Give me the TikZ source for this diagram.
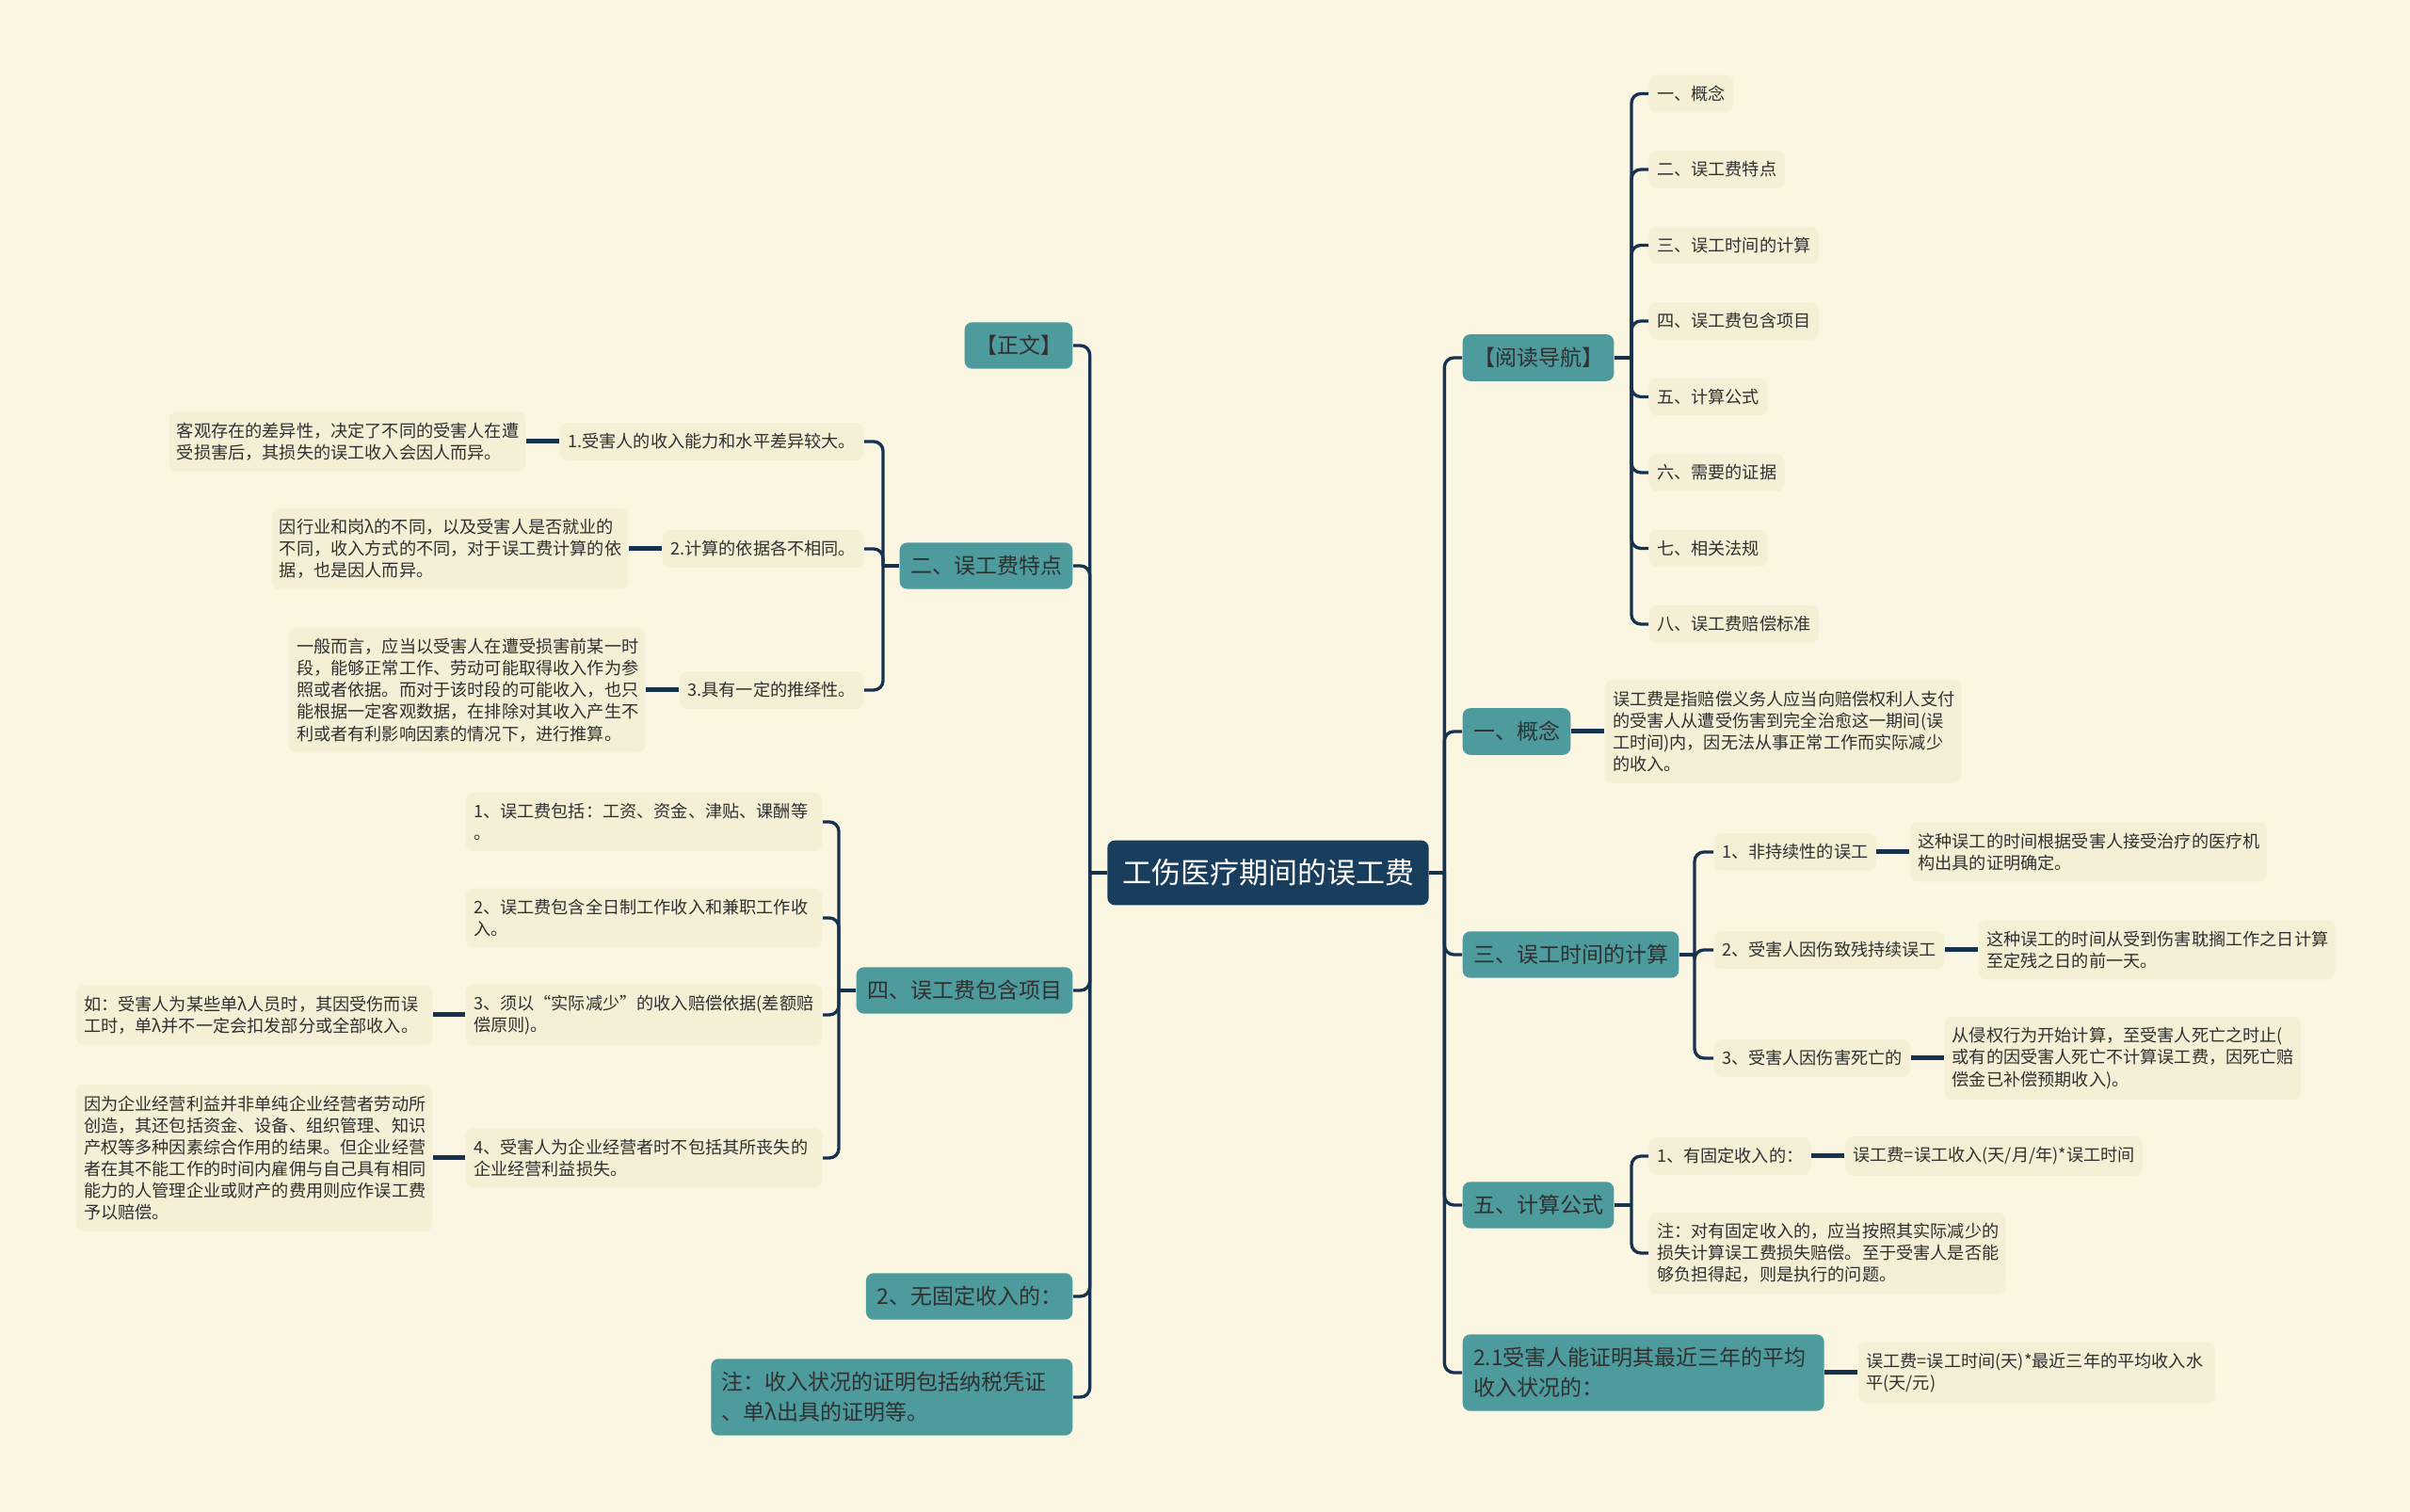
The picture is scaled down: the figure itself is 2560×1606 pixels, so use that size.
\documentclass[tikz,border=0pt]{standalone}
\usepackage{fontspec}
\setmainfont{Noto Sans CJK SC}
\usepackage{tikz}
\usetikzlibrary{positioning}
\setlength{\parindent}{0pt}
\definecolor{hgrund}{RGB}{250,246,226}
\definecolor{kasten}{RGB}{245,240,213}
\definecolor{tuerkis}{RGB}{78,155,157}
\definecolor{dunkelblau}{RGB}{24,61,93}
\definecolor{linie}{RGB}{22,50,79}
\definecolor{schrift}{RGB}{48,48,48}

\begin{document}
\begin{tikzpicture}[x=0.3pt, y=-0.3pt,
		wurzel/.style={fill=dunkelblau, text=white, rounded corners=2.4pt, inner xsep=4.7pt, inner ysep=6pt, font=\fontsize{9.3}{11}\selectfont},
		ast/.style={fill=tuerkis, text=schrift, rounded corners=2.4pt, inner xsep=3.4pt, inner ysep=4.2pt, align=left, font=\fontsize{6.9}{9.6}\selectfont},
		langast/.style={ast, text width=108.4pt},
		blatt/.style={fill=kasten, text=schrift, rounded corners=2.4pt, inner xsep=2.5pt, inner ysep=3.4pt, align=left, font=\fontsize{5.45}{6.95}\selectfont},
		langblatt/.style={blatt, text width=108.6pt},
		zweig/.style={draw=linie, line width=1pt, rounded corners=3pt},
		stiel/.style={draw=linie, line width=1.5pt}]
	% Hintergrund
	\fill[hgrund] (0,0) rectangle (2560,1606);
	\useasboundingbox (0,0) rectangle (2560,1606);
	% Hauptknoten
	\node[wurzel] (haupt) at (1347,927) {工伤医疗期间的误工费};
	\path (haupt.west) ++(-18,0) coordinate (lj);
	\path (haupt.east) ++(16,0) coordinate (rj);
	% Aeste links
	\node[ast, anchor=east] (zw) at (1140,367) {【正文】};
	\node[ast, anchor=east] (tz) at (1140,601) {二、误工费特点};
	\node[ast, anchor=east] (xm) at (1140,1052) {四、误工费包含项目};
	\node[ast, anchor=east] (wg) at (1140,1377) {2、无固定收入的：};
	\node[langast, anchor=east] (zm) at (1140,1484) {注：收入状况的证明包括纳税凭证\\、单λ出具的证明等。};
	\draw[zweig] (haupt.west) -- (lj);
	\foreach \k in {zw,tz,xm,wg,zm} \draw[zweig] (lj) |- (\k.east);
	% Aeste rechts
	\node[ast, anchor=west] (nav) at (1553,380) {【阅读导航】};
	\node[ast, anchor=west] (gn) at (1553,777) {一、概念};
	\node[ast, anchor=west] (js) at (1553,1014) {三、误工时间的计算};
	\node[ast, anchor=west] (gs) at (1553,1280) {五、计算公式};
	\node[langast, anchor=west] (pj) at (1553,1458) {2.1受害人能证明其最近三年的平均\\收入状况的：};
	\draw[zweig] (haupt.east) -- (rj);
	\foreach \k in {nav,gn,js,gs,pj} \draw[zweig] (rj) |- (\k.west);

	% Zweig: Merkmale
	\node[blatt, anchor=east] (t1) at (918,469) {1.受害人的收入能力和水平差异较大。};
	\node[blatt, anchor=east] (t2) at (918,583) {2.计算的依据各不相同。};
	\node[blatt, anchor=east] (t3) at (918,733) {3.具有一定的推绎性。};
	\node[langblatt, left=10.6pt of t1] (t1b) {客观存在的差异性，决定了不同的受害人在遭\\受损害后，其损失的误工收入会因人而异。};
	\node[langblatt, left=10.6pt of t2] (t2b) {因行业和岗λ的不同，以及受害人是否就业的\\不同，收入方式的不同，对于误工费计算的依\\据，也是因人而异。};
	\node[langblatt, left=10.6pt of t3] (t3b) {一般而言，应当以受害人在遭受损害前某一时\\段，能够正常工作、劳动可能取得收入作为参\\照或者依据。而对于该时段的可能收入，也只\\能根据一定客观数据，在排除对其收入产生不\\利或者有利影响因素的情况下，进行推算。};
	\path (tz.west) ++(-17,0) coordinate (tzj);
	\draw[zweig] (tz.west) -- (tzj);
	\foreach \k in {t1,t2,t3} {
		\draw[zweig] (tzj) |- (\k.east);
		\draw[stiel] (\k.west) -- (\k b.east);
	}

	% Zweig: Posten
	\node[langblatt, anchor=east] (x1) at (874,873) {1、误工费包括：工资、资金、津贴、课酬等\\。};
	\node[langblatt, anchor=east] (x2) at (874,975) {2、误工费包含全日制工作收入和兼职工作收\\入。};
	\node[langblatt, anchor=east] (x3) at (874,1078) {3、须以“实际减少”的收入赔偿依据(差额赔\\偿原则)。};
	\node[langblatt, anchor=east] (x4) at (874,1230) {4、受害人为企业经营者时不包括其所丧失的\\企业经营利益损失。};
	\node[langblatt, left=10.2pt of x3] (x3b) {如：受害人为某些单λ人员时，其因受伤而误\\工时，单λ并不一定会扣发部分或全部收入。};
	\node[langblatt, left=10.2pt of x4] (x4b) {因为企业经营利益并非单纯企业经营者劳动所\\创造，其还包括资金、设备、组织管理、知识\\产权等多种因素综合作用的结果。但企业经营\\者在其不能工作的时间内雇佣与自己具有相同\\能力的人管理企业或财产的费用则应作误工费\\予以赔偿。};
	\path (xm.west) ++(-18,0) coordinate (xmj);
	\draw[zweig] (xm.west) -- (xmj);
	\foreach \k in {x1,x2,x3,x4} \draw[zweig] (xmj) |- (\k.east);
	\draw[stiel] (x3.west) -- (x3b.east);
	\draw[stiel] (x4.west) -- (x4b.east);

	% Zweig: Navigation
	\foreach \t [count=\i] in {一、概念,二、误工费特点,三、误工时间的计算,四、误工费包含项目,五、计算公式,六、需要的证据,七、相关法规,八、误工费赔偿标准}
		\node[blatt, anchor=west] (nav\i) at (1751,{19+\i*80.5}) {\t};
	\path (nav.east) ++(18,0) coordinate (navj);
	\draw[zweig] (nav.east) -- (navj);
	\foreach \i in {1,...,8} \draw[zweig] (navj) |- (nav\i.west);

	% Zweig: Begriff
	\node[langblatt, right=10.5pt of gn] (gnb) {误工费是指赔偿义务人应当向赔偿权利人支付\\的受害人从遭受伤害到完全治愈这一期间(误\\工时间)内，因无法从事正常工作而实际减少\\的收入。};
	\draw[stiel] (gn.east) -- (gnb.west);

	% Zweig: Zeitberechnung
	\node[blatt, anchor=west] (s1) at (1820,905) {1、非持续性的误工};
	\node[blatt, anchor=west] (s2) at (1820,1009) {2、受害人因伤致残持续误工};
	\node[blatt, anchor=west] (s3) at (1820,1124) {3、受害人因伤害死亡的};
	\node[langblatt, right=10.5pt of s1] (s1b) {这种误工的时间根据受害人接受治疗的医疗机\\构出具的证明确定。};
	\node[langblatt, right=10.5pt of s2] (s2b) {这种误工的时间从受到伤害耽搁工作之日计算\\至定残之日的前一天。};
	\node[langblatt, right=10.5pt of s3] (s3b) {从侵权行为开始计算，至受害人死亡之时止(\\或有的因受害人死亡不计算误工费，因死亡赔\\偿金已补偿预期收入)。};
	\path (js.east) ++(16,0) coordinate (jsj);
	\draw[zweig] (js.east) -- (jsj);
	\foreach \k in {s1,s2,s3} {
		\draw[zweig] (jsj) |- (\k.west);
		\draw[stiel] (\k.east) -- (\k b.west);
	}

	% Zweig: Formel
	\node[blatt, anchor=west] (f1) at (1751,1228) {1、有固定收入的：};
	\node[langblatt, anchor=west] (f2) at (1751,1331) {注：对有固定收入的，应当按照其实际减少的\\损失计算误工费损失赔偿。至于受害人是否能\\够负担得起，则是执行的问题。};
	\node[blatt, right=10.5pt of f1] (f1b) {误工费=误工收入(天/月/年)*误工时间};
	\path (gs.east) ++(18,0) coordinate (gsj);
	\draw[zweig] (gs.east) -- (gsj);
	\foreach \k in {f1,f2} \draw[zweig] (gsj) |- (\k.west);
	\draw[stiel] (f1.east) -- (f1b.west);

	% Zweig: Durchschnitt
	\node[langblatt, right=10.5pt of pj] (pjb) {误工费=误工时间(天)*最近三年的平均收入水\\平(天/元)};
	\draw[stiel] (pj.east) -- (pjb.west);
\end{tikzpicture}
\end{document}
